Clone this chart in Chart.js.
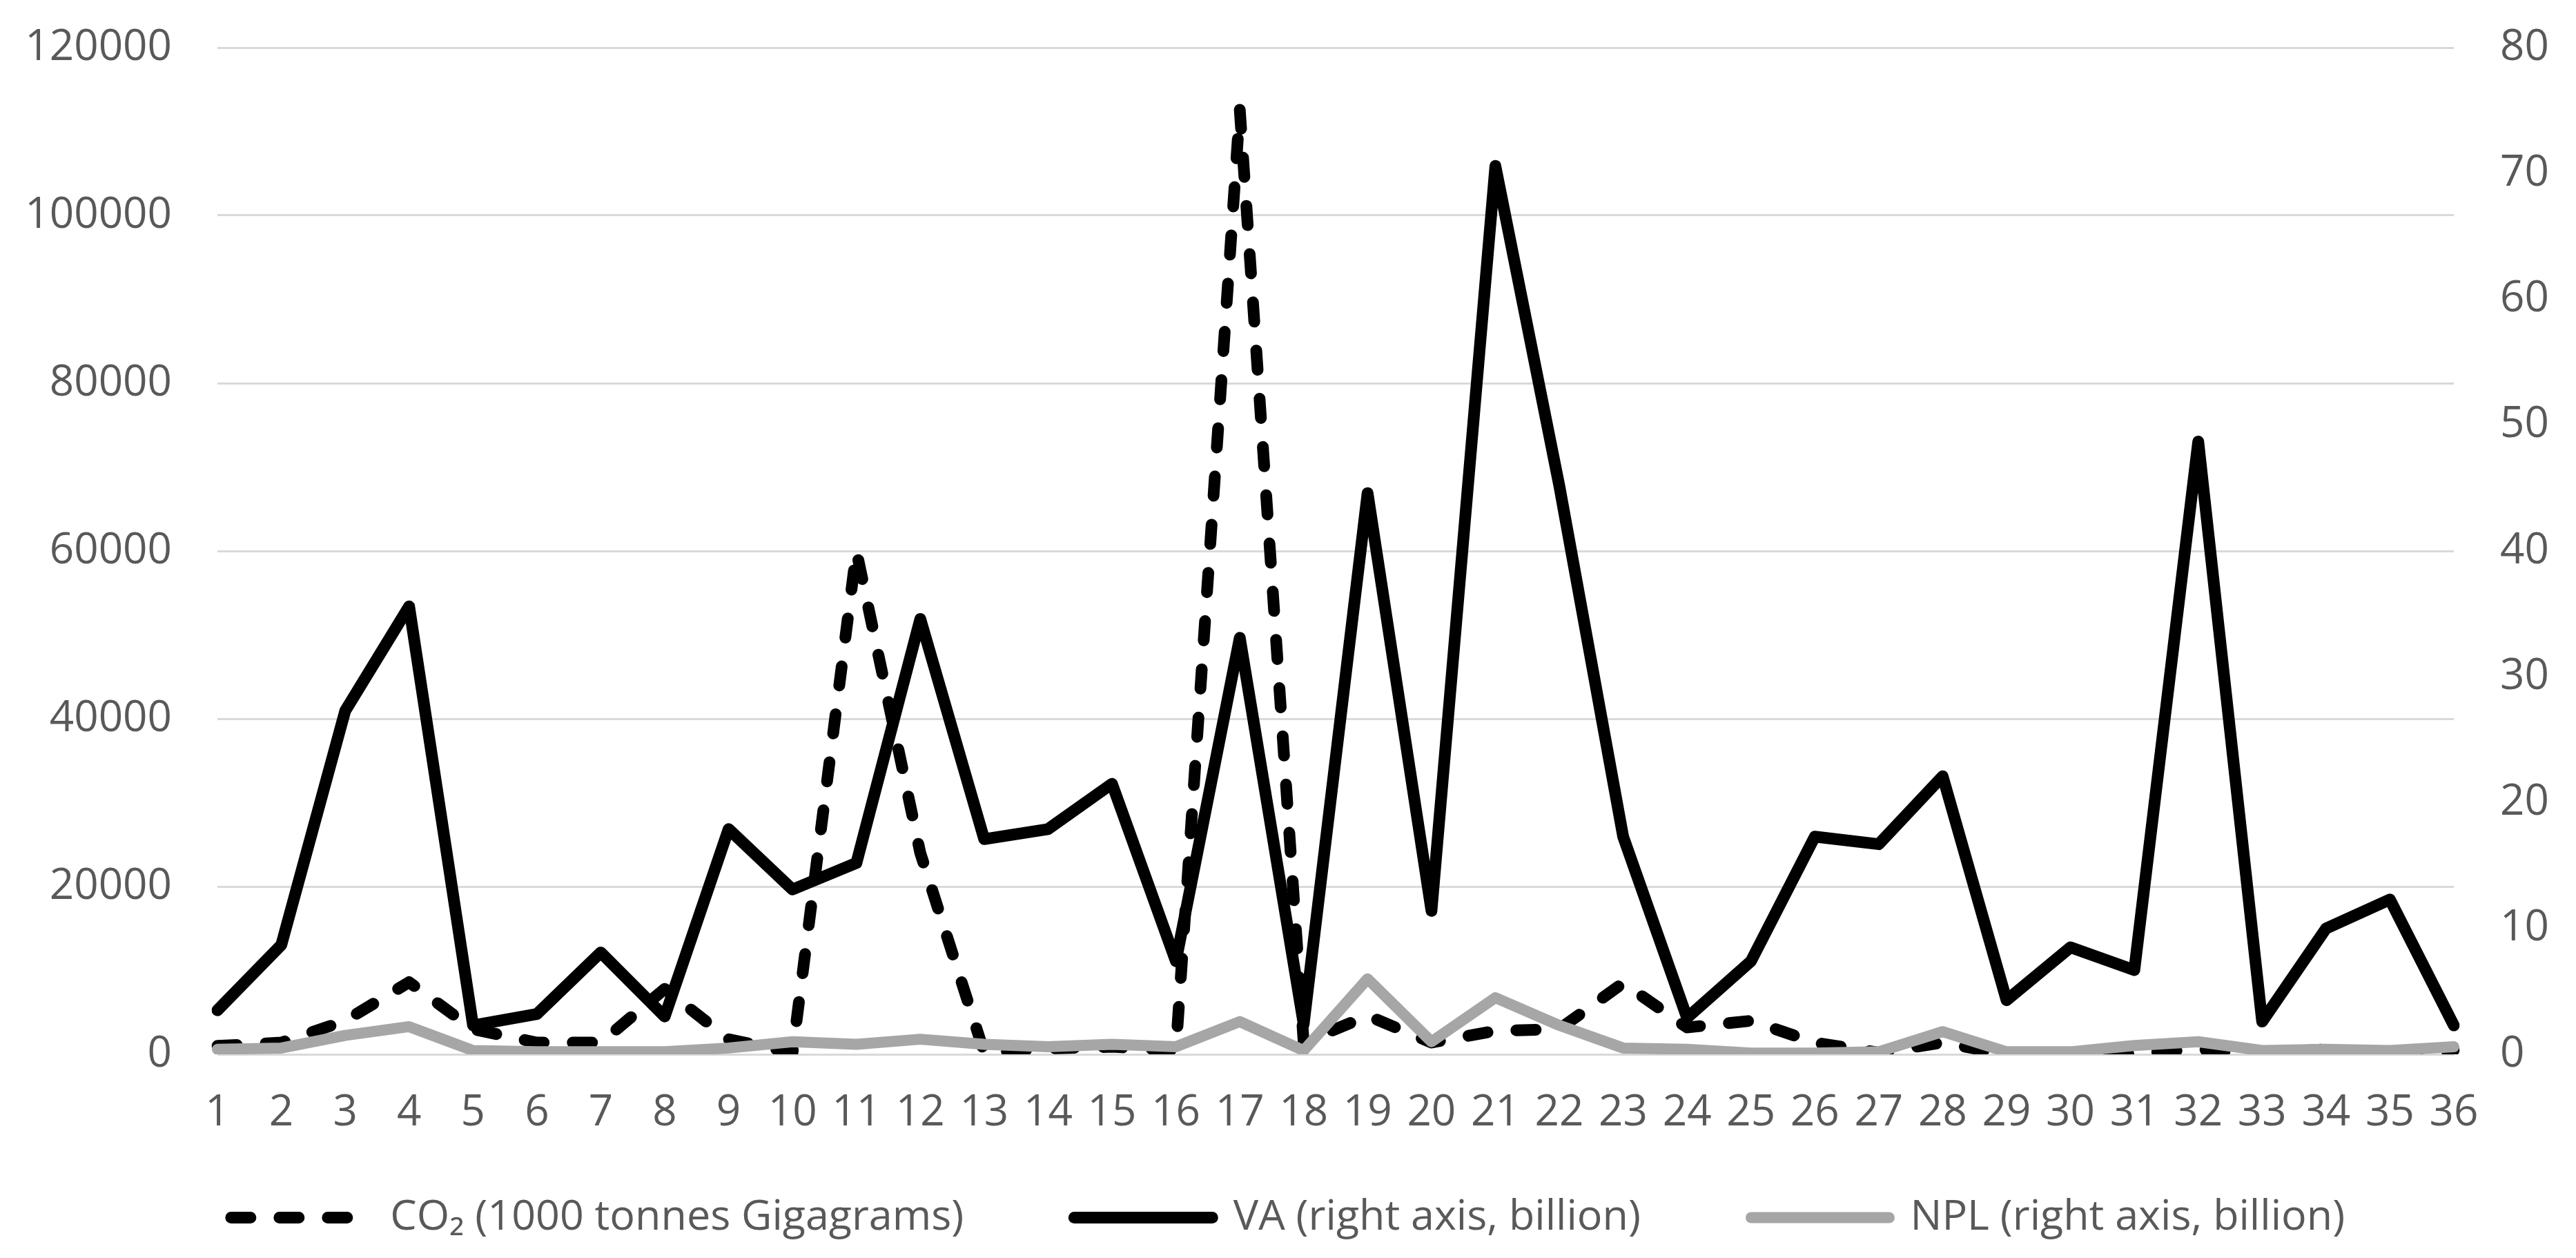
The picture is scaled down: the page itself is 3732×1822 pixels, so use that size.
<!DOCTYPE html>
<html>
<head>
<meta charset="utf-8">
<script src="https://cdn.jsdelivr.net/npm/chart.js@4.4.1/dist/chart.umd.min.js"></script>
<style>
  html, body { margin: 0; padding: 0; background: #fff; }
  #wrap { width: 3732px; height: 1822px; }
</style>
</head>
<body>
<div id="wrap"><canvas id="chart" width="3732" height="1822"></canvas></div>
<script>
const categories = ['1','2','3','4','5','6','7','8','9','10','11','12','13','14','15','16','17','18',
    '19','20','21','22','23','24','25','26','27','28','29','30','31','32','33','34','35','36'];

// CO2, left axis
const co2 = [1000, 1400, 4000, 8600, 3000, 1400, 1400, 7800, 1800, 200, 60000, 24000,
    200, 700, 900, 500, 112600, 1400, 4600, 1400, 2800, 3000, 8500, 3200,
    4000, 1400, 200, 1400, 0, 100, 100, 600, 100, 600, 200, 500];

// VA, right axis (billion)
const va = [3.5, 8.7, 27.3, 35.6, 2.3, 3.2, 8.1, 3.0, 17.9, 13.1, 15.2, 34.6,
    17.1, 17.9, 21.5, 7.4, 33.1, 2.4, 44.6, 11.4, 70.6, 45.2, 17.3, 2.9,
    7.4, 17.3, 16.7, 22.1, 4.3, 8.5, 6.7, 48.7, 2.6, 10.0, 12.3, 2.3];

// NPL, right axis (billion)
const npl = [0.4, 0.5, 1.5, 2.2, 0.3, 0.2, 0.2, 0.2, 0.5, 1.0, 0.8, 1.2,
    0.8, 0.6, 0.8, 0.6, 2.6, 0.3, 6.0, 1.0, 4.5, 2.3, 0.5, 0.4,
    0.1, 0.1, 0.2, 1.8, 0.2, 0.2, 0.7, 1.0, 0.3, 0.4, 0.3, 0.6];

const leftTicks = [0, 20000, 40000, 60000, 80000, 100000, 120000];
const rightTicks = [0, 10, 20, 30, 40, 50, 60, 70, 80];

const textColor = '#595959';
const fontFamily = '"Open Sans", "Noto Sans", sans-serif';

const lineBase = {
    pointRadius: 0,
    pointHoverRadius: 0,
    tension: 0,
    fill: false,
    borderJoinStyle: 'round'
};

// legend items sit far apart; labels.padding also pushes the row down,
// so move the legend box up under the x labels and give it room to draw
const legendShift = {
    id: 'legendShift',
    afterLayout(chart) {
        const lg = chart.legend;
        lg.top = chart.chartArea.bottom + 46;
        lg.height = 300;
        lg.bottom = lg.top + lg.height;
    }
};

// y axes: keep the tick padding from pushing the plot area down
const fixYAxis = (w) => (s) => {
    s.width = w;
    s.paddingTop = 0;
    s.paddingBottom = 0;
};

new Chart(document.getElementById('chart'), {
    type: 'line',
    data: {
        labels: categories,
        datasets: [
            Object.assign({}, lineBase, {
                label: 'CO₂ (1000 tonnes Gigagrams)',
                data: co2,
                yAxisID: 'y',
                borderColor: '#000000',
                backgroundColor: '#000000',
                borderWidth: 17,
                borderDash: [28, 42],
                borderCapStyle: 'round',
                order: 3
            }),
            Object.assign({}, lineBase, {
                label: 'VA (right axis, billion)',
                data: va,
                yAxisID: 'y1',
                borderColor: '#000000',
                backgroundColor: '#000000',
                borderWidth: 17,
                borderCapStyle: 'round',
                order: 2
            }),
            Object.assign({}, lineBase, {
                label: 'NPL (right axis, billion)',
                data: npl,
                yAxisID: 'y1',
                borderColor: '#a6a6a6',
                backgroundColor: '#a6a6a6',
                borderWidth: 16,
                borderCapStyle: 'round',
                order: 1
            })
        ]
    },
    options: {
        responsive: false,
        animation: false,
        devicePixelRatio: 1,
        layout: { padding: { top: 69, left: 0, right: 0, bottom: 55 } },
        plugins: {
            tooltip: { enabled: false },
            legend: {
                position: 'bottom',
                maxHeight: 110,
                labels: {
                    usePointStyle: true,
                    pointStyle: 'line',
                    pointStyleWidth: 200,
                    padding: 160,
                    color: textColor,
                    font: { family: fontFamily, size: 61 },
                    sort: (a, b) => a.datasetIndex - b.datasetIndex,
                    generateLabels: (chart) => {
                        const items = Chart.defaults.plugins.legend.labels.generateLabels(chart);
                        items.forEach(it => {
                            const ds = chart.data.datasets[it.datasetIndex];
                            it.lineDash = ds.borderDash || [];
                            it.lineCap = ds.borderCapStyle;
                            it.lineWidth = ds.borderWidth;
                            it.strokeStyle = ds.borderColor;
                        });
                        return items;
                    }
                }
            }
        },
        scales: {
            x: {
                grid: { display: false },
                border: { display: false },
                ticks: {
                    color: textColor,
                    font: { family: fontFamily, size: 62 },
                    autoSkip: false,
                    maxRotation: 0,
                    padding: 40
                },
                afterFit: (s) => { s.height = 130; }
            },
            y: {
                position: 'left',
                min: 0,
                max: 120000,
                afterBuildTicks: (s) => { s.ticks = leftTicks.map(v => ({ value: v })); },
                grid: { color: '#d9d9d9', lineWidth: 3, drawTicks: false },
                border: { display: false },
                ticks: {
                    color: textColor,
                    font: { family: fontFamily, size: 62 },
                    padding: 66,
                    callback: (v) => String(v)
                },
                afterFit: fixYAxis(315)
            },
            y1: {
                position: 'right',
                min: 0,
                max: 80,
                afterBuildTicks: (s) => { s.ticks = rightTicks.map(v => ({ value: v })); },
                grid: { drawOnChartArea: false, drawTicks: false },
                border: { display: false },
                ticks: {
                    color: textColor,
                    font: { family: fontFamily, size: 62 },
                    padding: 67,
                    callback: (v) => String(v)
                },
                afterFit: fixYAxis(177)
            }
        }
    },
    plugins: [legendShift]
});
</script>
</body>
</html>
